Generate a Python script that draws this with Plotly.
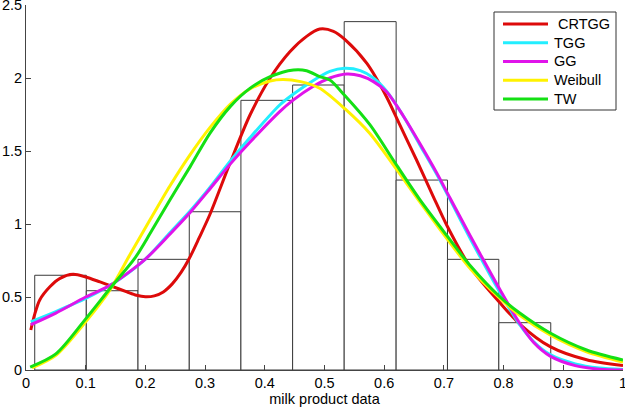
import plotly.graph_objects as go

# histogram of the data (bin edges and bar heights)
bin_edges = [0.0146, 0.101, 0.1876, 0.2735, 0.360, 0.4466, 0.533, 0.620, 0.706, 0.792, 0.879]
bin_heights = [0.649, 0.543, 0.758, 1.084, 1.847, 1.952, 2.386, 1.301, 0.758, 0.324]

# fitted densities
crtgg_x = [0.008, 0.015, 0.023, 0.04, 0.057, 0.079, 0.10, 0.124, 0.141, 0.169, 0.185, 0.2, 0.215,
           0.23, 0.245, 0.26, 0.273, 0.29, 0.308, 0.342, 0.375, 0.409, 0.442, 0.47, 0.492, 0.515,
           0.534, 0.571, 0.604, 0.626, 0.654, 0.682, 0.705, 0.745, 0.794, 0.827, 0.878, 0.939, 1.0]
crtgg_y = [0.274, 0.388, 0.48, 0.57, 0.628, 0.655, 0.637, 0.603, 0.578, 0.535, 0.512, 0.502, 0.508,
           0.535, 0.59, 0.67, 0.76, 0.905, 1.065, 1.42, 1.745, 2.0, 2.18, 2.285, 2.335, 2.32,
           2.265, 2.10, 1.87, 1.68, 1.44, 1.19, 0.99, 0.70, 0.46, 0.315, 0.16, 0.07, 0.03]

tgg_x = [0.008, 0.05, 0.1, 0.141, 0.2, 0.241, 0.273, 0.308, 0.342, 0.375, 0.425, 0.448, 0.48, 0.509,
         0.534, 0.56, 0.582, 0.604, 0.632, 0.66, 0.688, 0.71, 0.744, 0.76, 0.794, 0.827, 0.85, 0.878,
         0.92, 0.96, 1.0]
tgg_y = [0.33, 0.40, 0.49, 0.58, 0.76, 0.94, 1.08, 1.25, 1.43, 1.59, 1.815, 1.89, 1.98, 2.045,
         2.066, 2.05, 2.0, 1.91, 1.74, 1.54, 1.34, 1.17, 0.9, 0.78, 0.53, 0.31, 0.195, 0.105,
         0.042, 0.014, 0.004]

gg_x = [0.008, 0.05, 0.1, 0.141, 0.2, 0.241, 0.273, 0.308, 0.342, 0.375, 0.425, 0.448, 0.48, 0.509,
        0.537, 0.56, 0.582, 0.604, 0.632, 0.66, 0.688, 0.71, 0.744, 0.76, 0.794, 0.827, 0.85, 0.878,
        0.92, 0.96, 1.0]
gg_y = [0.31, 0.39, 0.50, 0.58, 0.76, 0.93, 1.07, 1.24, 1.41, 1.56, 1.77, 1.85, 1.94, 2.0,
        2.027, 2.015, 1.975, 1.906, 1.74, 1.55, 1.35, 1.18, 0.92, 0.80, 0.55, 0.32, 0.19, 0.095,
        0.03, 0.006, 0.0]

weibull_x = [0.01, 0.05, 0.1, 0.141, 0.174, 0.208, 0.241, 0.275, 0.308, 0.342, 0.375, 0.409, 0.431,
             0.46, 0.492, 0.534, 0.576, 0.618, 0.66, 0.705, 0.745, 0.794, 0.827, 0.878, 0.939, 1.0]
weibull_y = [0.014, 0.10, 0.33, 0.55, 0.79, 1.03, 1.26, 1.475, 1.66, 1.82, 1.925, 1.98, 1.99,
             1.975, 1.93, 1.79, 1.62, 1.39, 1.15, 0.9, 0.69, 0.49, 0.375, 0.24, 0.125, 0.055]

tw_x = [0.007, 0.05, 0.1, 0.141, 0.183, 0.208, 0.241, 0.275, 0.308, 0.342, 0.375, 0.409, 0.448, 0.47,
        0.492, 0.509, 0.534, 0.576, 0.618, 0.66, 0.705, 0.745, 0.794, 0.827, 0.878, 0.939, 1.0]
tw_y = [0.02, 0.11, 0.35, 0.56, 0.77, 0.936, 1.164, 1.393, 1.621, 1.804, 1.929, 2.009, 2.055, 2.05,
        2.01, 1.986, 1.88, 1.68, 1.42, 1.165, 0.92, 0.71, 0.50, 0.39, 0.253, 0.137, 0.068]

x_ticks = [0, 0.1, 0.2, 0.3, 0.4, 0.5, 0.6, 0.7, 0.8, 0.9, 1]
x_labels = ["0", "0.1", "0.2", "0.3", "0.4", "0.5", "0.6", "0.7", "0.8", "0.9", "1"]
y_ticks = [0, 0.5, 1, 1.5, 2, 2.5]
y_labels = ["0", "0.5", "1", "1.5", "2", "2.5"]

FONT = "Liberation Sans, Arial, sans-serif"

# plot area in pixels
L, R, T, B = 26, 2, 5, 40
W, H = 625, 410
PW, PH = W - L - R, H - T - B


def px_x(p):
    return (p - L) / PW


def px_y(p):
    return (H - B - p) / PH


centers = [(a + b) / 2 for a, b in zip(bin_edges[:-1], bin_edges[1:])]
widths = [b - a for a, b in zip(bin_edges[:-1], bin_edges[1:])]

fig = go.Figure()
fig.add_trace(go.Bar(
    x=centers, y=bin_heights, width=widths,
    marker=dict(color="white", line=dict(color="#3a3a3a", width=1)),
    showlegend=False, hoverinfo="skip",
))

curves = [
    ("\u00a0CRTGG", crtgg_x, crtgg_y, "#dd0a0a"),
    ("TGG", tgg_x, tgg_y, "#22eeff"),
    ("GG", gg_x, gg_y, "#e014ea"),
    ("Weibull", weibull_x, weibull_y, "#fff200"),
    ("TW", tw_x, tw_y, "#14e014"),
]
for name, xs, ys, col in curves:
    fig.add_trace(go.Scatter(
        x=xs, y=ys, name=name, mode="lines", showlegend=False,
        line=dict(color=col, width=3, shape="spline", smoothing=0.8),
    ))

# legend box drawn by hand (matlab style, long line samples)
fig.add_shape(type="rect", xref="paper", yref="paper",
              x0=px_x(494), x1=px_x(616), y0=px_y(110), y1=px_y(12),
              line=dict(color="#333333", width=1), fillcolor="white", layer="above")
for i, (name, xs, ys, col) in enumerate(curves):
    yy = px_y(24 + 18.75 * i)
    fig.add_shape(type="line", xref="paper", yref="paper",
                  x0=px_x(503), x1=px_x(548), y0=yy, y1=yy,
                  line=dict(color=col, width=3), layer="above")
    fig.add_annotation(text=name, xref="paper", yref="paper", x=px_x(552), y=yy,
                       xanchor="left", yanchor="middle", showarrow=False,
                       font=dict(family=FONT, size=14.5, color="black"))

fig.update_layout(
    width=W, height=H,
    margin=dict(l=L, r=R, t=T, b=B),
    paper_bgcolor="white", plot_bgcolor="white",
    font=dict(family=FONT, size=14.5, color="black"),
    showlegend=False,
    xaxis=dict(
        range=[0, 1], tickvals=x_ticks, ticktext=x_labels,
        showgrid=False, zeroline=False, automargin=False, ticklabeloverflow="allow",
        showline=True, linecolor="#444444", linewidth=1,
        ticks="inside", ticklen=5, tickcolor="#444444",
        title=dict(text="milk product data", font=dict(size=14.5), standoff=3),
    ),
    yaxis=dict(
        range=[0, 2.5], tickvals=y_ticks, ticktext=y_labels,
        showgrid=False, zeroline=False, automargin=False, ticklabeloverflow="allow",
        showline=True, linecolor="#444444", linewidth=1,
        ticks="inside", ticklen=5, tickcolor="#444444",
    ),
)

# page body has a default 8px margin; drop it so the figure sits at the window corner
fig.write_html("out.html", config={"displayModeBar": False},
               post_script="document.body.style.margin='0';")
